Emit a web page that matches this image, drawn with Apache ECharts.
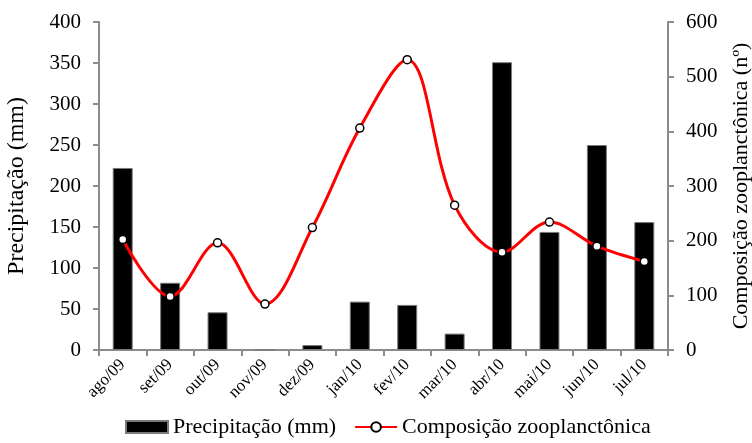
<!DOCTYPE html>
<html>
<head>
<meta charset="utf-8">
<script src="https://cdn.jsdelivr.net/npm/echarts@6/dist/echarts.min.js"></script>
<style>
  html, body { margin: 0; padding: 0; background: #fff; }
  #chart { width: 752px; height: 443px; }
</style>
</head>
<body>
<div id="chart"></div>
<script>
const meses = ['ago/09', 'set/09', 'out/09', 'nov/09', 'dez/09', 'jan/10',
    'fev/10', 'mar/10', 'abr/10', 'mai/10', 'jun/10', 'jul/10']
// precipitação mensal (mm)
const precipitacao = [222, 82, 46, 0, 6, 59, 55, 20, 351, 144, 250, 156]
// composição zooplanctônica (nº)
const zooplancton = [202, 98, 196, 84, 224, 406, 531, 265, 179, 234, 190, 162]

const fonte = 'Liberation Serif, Times New Roman, serif'
const cinza = '#8c8c8c'

const chart = echarts.init(document.getElementById('chart'))
chart.setOption({
    animation: false,
    textStyle: { fontFamily: fonte, color: '#000' },
    grid: { left: 99, right: 84, top: 22, bottom: 93, containLabel: false, outerBoundsMode: 'none' },
    legend: {
        bottom: 0,
        left: 120,
        itemGap: 18,
        itemWidth: 42,
        itemHeight: 12,
        textStyle: { fontFamily: fonte, fontSize: 22, color: '#000' },
        data: [
            { name: 'Precipitação (mm)', icon: 'rect' },
            { name: 'Composição zooplanctônica' }
        ]
    },
    xAxis: {
        type: 'category',
        data: meses,
        axisLine: { lineStyle: { color: cinza, width: 2 } },
        axisTick: { show: true, alignWithLabel: false, length: 6, lineStyle: { color: cinza, width: 2 } },
        axisLabel: { rotate: 45, fontSize: 17, color: '#000', fontFamily: fonte, margin: 12 }
    },
    yAxis: [
        {
            type: 'value',
            min: 0, max: 400, interval: 50,
            name: 'Precipitação (mm)',
            nameLocation: 'middle',
            nameGap: 70,
            nameTextStyle: { fontSize: 24, fontFamily: fonte, color: '#000' },
            splitLine: { show: false },
            axisLine: { show: true, lineStyle: { color: cinza, width: 2 } },
            axisTick: { show: true, length: 6, lineStyle: { color: cinza, width: 2 } },
            axisLabel: { fontSize: 21, color: '#000', fontFamily: fonte, margin: 18 }
        },
        {
            type: 'value',
            min: 0, max: 600, interval: 100,
            name: 'Composição zooplanctônica (nº)',
            nameLocation: 'middle',
            nameGap: 62,
            nameRotate: 90,
            nameTextStyle: { fontSize: 22, fontFamily: fonte, color: '#000' },
            splitLine: { show: false },
            axisLine: { show: true, lineStyle: { color: cinza, width: 2 } },
            axisTick: { show: true, length: 6, lineStyle: { color: cinza, width: 2 } },
            axisLabel: { fontSize: 21, color: '#000', fontFamily: fonte, margin: 18 }
        }
    ],
    series: [
        {
            name: 'Precipitação (mm)',
            type: 'bar',
            yAxisIndex: 0,
            data: precipitacao,
            barWidth: 20,
            itemStyle: { color: '#000', borderColor: '#7a7a7a', borderWidth: 1 }
        },
        {
            name: 'Composição zooplanctônica',
            type: 'line',
            yAxisIndex: 1,
            data: zooplancton,
            smooth: 0.35,
            symbol: 'circle',
            symbolSize: 8,
            lineStyle: { color: '#ff0000', width: 3 },
            itemStyle: { color: '#fff', borderColor: '#000', borderWidth: 1.5 }
        }
    ]
})
</script>
</body>
</html>
